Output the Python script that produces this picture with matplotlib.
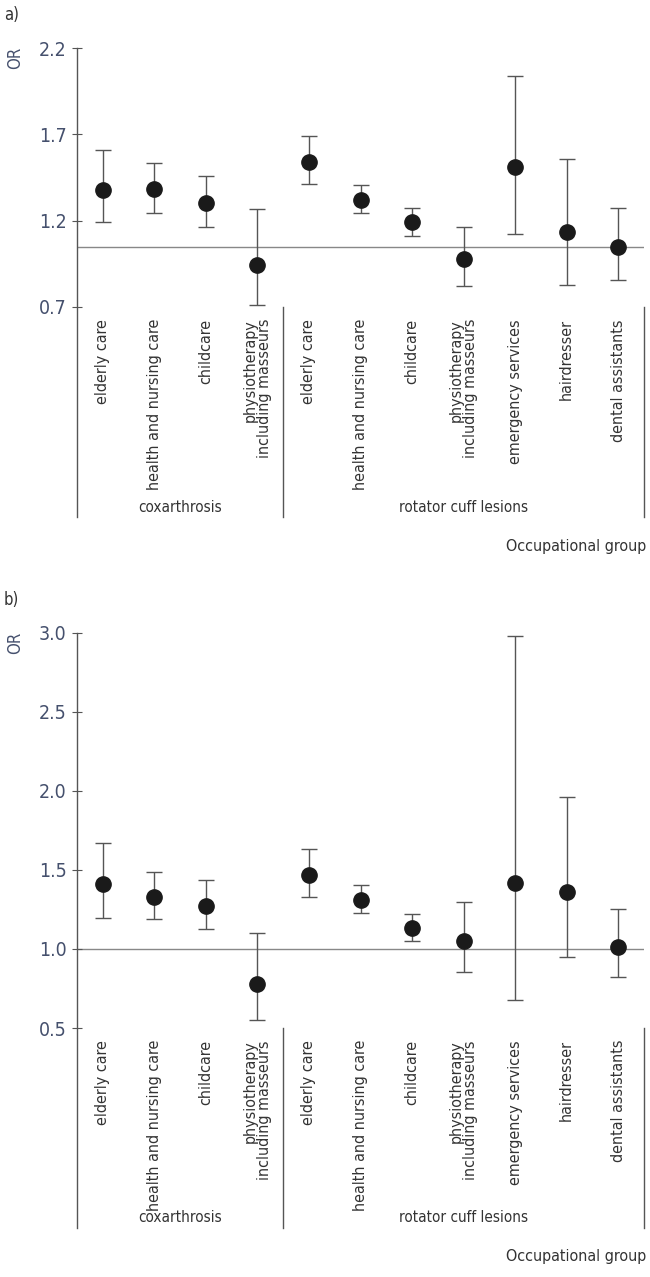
import matplotlib.pyplot as plt
import matplotlib.transforms as mtransforms

# occupational groups (x categories)
groups = ["elderly care", "health and nursing care", "childcare",
          "physiotherapy\nincluding masseurs",
          "elderly care", "health and nursing care", "childcare",
          "physiotherapy\nincluding masseurs", "emergency services",
          "hairdresser", "dental assistants"]

# panel a
or_a = [1.38, 1.385, 1.30, 0.945, 1.54, 1.32, 1.19, 0.98, 1.51, 1.135, 1.045]
lo_a = [1.19, 1.245, 1.165, 0.712, 1.41, 1.243, 1.11, 0.82, 1.12, 0.83, 0.855]
hi_a = [1.608, 1.534, 1.457, 1.266, 1.692, 1.405, 1.272, 1.164, 2.04, 1.557, 1.272]
ref_a = 1.05
yt_a = [0.7, 1.2, 1.7, 2.2]

# panel b
or_b = [1.41, 1.33, 1.27, 0.78, 1.47, 1.31, 1.13, 1.05, 1.42, 1.36, 1.01]
lo_b = [1.195, 1.187, 1.124, 0.552, 1.33, 1.225, 1.052, 0.855, 0.678, 0.947, 0.821]
hi_b = [1.669, 1.486, 1.433, 1.103, 1.631, 1.406, 1.221, 1.297, 2.98, 1.962, 1.25]
ref_b = 1.0
yt_b = [0.5, 1.0, 1.5, 2.0, 2.5, 3.0]

W, H = 650, 1277
FONT = dict(family=["DejaVu Sans"], stretch="condensed")
navy = "#45506d"
txt = "#333333"
linec = "#555555"

fig = plt.figure(figsize=(W / 100, H / 100), dpi=100)


def panel(tag, top, bottom, line_bottom, vals, lo, hi, ref, yticks, fmt):
    ax = fig.add_axes([77 / W, 1 - bottom / H, (644 - 77) / W, (bottom - top) / H])
    x = list(range(len(vals)))
    yerr = [[v - l for v, l in zip(vals, lo)], [h - v for v, h in zip(vals, hi)]]
    ax.errorbar(x, vals, yerr=yerr, fmt="none", ecolor=linec, elinewidth=1,
                capsize=6, capthick=1, zorder=2)
    ax.plot(x, vals, "o", color="#1a1a1a", markersize=11, zorder=3)
    ax.axhline(ref, color="#888888", lw=1, zorder=1)
    ax.set_xlim(-0.5, len(vals) - 0.5)
    ax.set_ylim(yticks[0], yticks[-1])
    ax.set_yticks(yticks)
    ax.set_yticklabels([fmt % t for t in yticks], fontsize=14, color=navy, **FONT)
    ax.tick_params(axis="y", direction="inout", length=7, width=0.8, color=linec, pad=4)
    ax.set_xticks([])
    for s in ax.spines.values():
        s.set_visible(False)

    frac = (bottom - line_bottom) / (bottom - top)
    tr = mtransforms.blended_transform_factory(ax.transData, ax.transAxes)
    ax.plot([-0.5, -0.5], [1, frac], color=linec, lw=1, transform=tr, clip_on=False)
    for xd in [3.5, len(vals) - 0.5]:
        ax.plot([xd, xd], [0, frac], color=linec, lw=1, transform=tr, clip_on=False)

    # category labels
    lab_y = -12 / (bottom - top)
    for i, g in enumerate(groups):
        ax.text(i, lab_y, g, rotation=90, ha="center", va="top", transform=tr,
                fontsize=11.5, color=txt, multialignment="right",
                linespacing=0.95, **FONT)
    gy = frac + 10 / (bottom - top)
    ax.text(1.5, gy, "coxarthrosis", ha="center", va="center", transform=tr,
            fontsize=11, color=txt, **FONT)
    ax.text(7, gy, "rotator cuff lesions", ha="center", va="center", transform=tr,
            fontsize=11, color=txt, **FONT)
    fig.text(646 / W, 1 - (line_bottom + 29) / H, "Occupational group", ha="right",
             va="center", fontsize=11.5, color=txt, **FONT)
    fig.text(4 / W, 1 - (top - 33) / H, tag, ha="left", va="center",
             fontsize=12, color=txt, **FONT)
    fig.text(15 / W, 1 - (top + 10) / H, "OR", rotation=90, ha="center", va="center",
             fontsize=12, color=navy, **FONT)
    return ax


panel("a)", 48, 307, 517, or_a, lo_a, hi_a, ref_a, yt_a, "%.1f")
panel("b)", 632.7, 1028, 1228, or_b, lo_b, hi_b, ref_b, yt_b, "%.1f")

fig.savefig("out.png", dpi=100)
